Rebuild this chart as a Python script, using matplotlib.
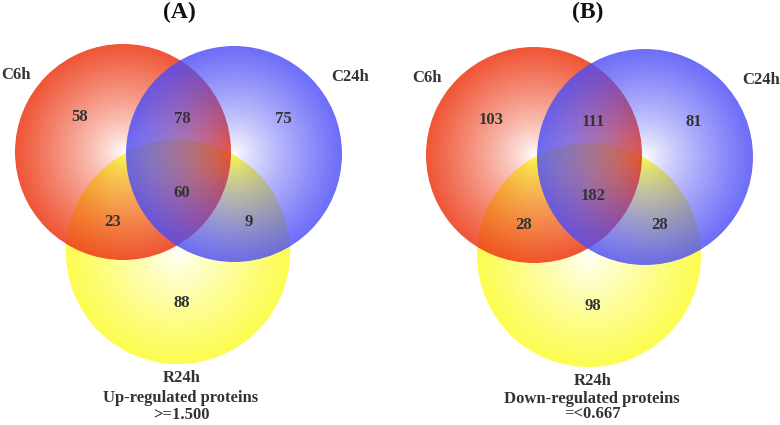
import matplotlib.pyplot as plt
import numpy as np
from matplotlib.patches import Circle

plt.rcParams['font.family'] = ['Liberation Serif', 'DejaVu Serif']

panel_titles = ["(A)", "(B)"]
set_names = ["C6h", "C24h", "R24h"]
# region order: C6h only, C24h only, R24h only, C6h&C24h, C6h&R24h, C24h&R24h, all three
counts_a = [58, 75, 88, 78, 23, 9, 60]
counts_b = [103, 81, 98, 111, 28, 28, 182]
subtitles = [["Up-regulated proteins", ">=1.500"], ["Down-regulated proteins", "=<0.667"]]

# layout in pixels (panel A), panel B shifted
offsets = [(0, 0), (411, 3)]
circles = [((123, 152), 108, (0.93, 0.24, 0.10), 0.88),   # C6h red
           ((234, 154), 108, (0.30, 0.30, 0.97), 0.82),   # C24h blue
           ((178, 252), 112, (0.99, 0.99, 0.20), 0.86)]   # R24h yellow
draw_order = [2, 0, 1]
region_pos = [(80, 117), (283, 119), (182, 303), (182, 119), (113, 222), (249, 222), (182, 193)]
name_pos = [(16, 75), (350, 77), (182, 378)]
text_col = '#333333'

fig = plt.figure(figsize=(7.8, 4.25), dpi=100)
ax = fig.add_axes([0, 0, 1, 1])
ax.set_xlim(0, 780)
ax.set_ylim(425, 0)
ax.axis('off')


def gradient_circle(cx, cy, r, color, amax, p=0.8):
    n = 300
    g = np.linspace(-1, 1, n)
    xx, yy = np.meshgrid(g, g)
    d = np.clip(np.sqrt(xx ** 2 + yy ** 2), 0, 1)
    img = np.zeros((n, n, 4))
    img[..., :3] = color
    img[..., 3] = amax * d ** p
    patch = Circle((cx, cy), r, facecolor='none', edgecolor='none')
    ax.add_patch(patch)
    im = ax.imshow(img, extent=(cx - r, cx + r, cy + r, cy - r), interpolation='bilinear', zorder=2)
    im.set_clip_path(patch)


for k, (counts, title, sub) in enumerate(zip([counts_a, counts_b], panel_titles, subtitles)):
    ox, oy = offsets[k]
    for i in draw_order:
        (cx, cy), r, col, amax = circles[i]
        gradient_circle(cx + ox, cy + oy, r, col, amax)
    for (x, y), v in zip(region_pos, counts):
        ax.text(x + ox, y + oy, str(v), ha='center', va='center', fontsize=12,
                fontweight='bold', color=text_col, zorder=5)
    for (x, y), name in zip(name_pos, set_names):
        ax.text(x + ox, y + oy, name, ha='center', va='center', fontsize=12,
                fontweight='bold', color=text_col, zorder=5)
    ax.text(179 + ox * 0.995, 12, title, ha='center', va='center', fontsize=17,
            fontweight='bold', color='#111111')
    ax.text(181 + ox, 398 + oy * 0.3, sub[0], ha='center', va='center', fontsize=12,
            fontweight='bold', color=text_col)
    ax.text(181 + ox, 415 - oy * 0.5, sub[1], ha='center', va='center', fontsize=12,
            fontweight='bold', color=text_col)

fig.savefig('out.png', dpi=100)
